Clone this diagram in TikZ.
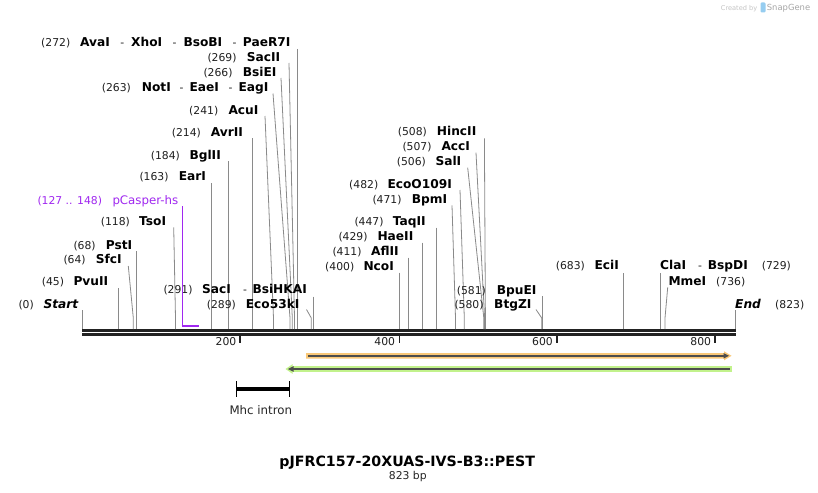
\documentclass[tikz,border=0pt]{standalone}
\usepackage{fontspec}
\newfontfamily\dv{DejaVu Sans}
\newcommand\numf{\dv\mdseries\upshape\fontsize{10.8}{12}\selectfont}
\newcommand\enzf{\dv\bfseries\fontsize{12.2}{13}\selectfont}
\newcommand\featf{\dv\mdseries\upshape\fontsize{11.8}{13}\selectfont}
\definecolor{axisc}{HTML}{222222}
\definecolor{leadc}{HTML}{8A8A8A}
\definecolor{purp}{RGB}{160,40,240}
\definecolor{orangeb}{RGB}{250,200,120}
\definecolor{greenb}{RGB}{194,242,140}
\definecolor{darkln}{HTML}{4D4D4D}
\definecolor{wmgray}{HTML}{C4C4C4}
\definecolor{wmlogo}{RGB}{150,205,240}
\tikzset{
  num/.style={font=\numf, anchor=base west, inner sep=0pt, text=black!88},
  enz/.style={font=\enzf, anchor=base west, inner sep=0pt, text=black},
  dashn/.style={font=\numf, anchor=base west, inner sep=0pt, text=black!88},
  leader/.style={draw=leadc, line width=0.8pt},
  axisline/.style={draw=axisc, line width=2.4pt},
  tickmark/.style={draw=axisc, line width=1.6pt},
  ticklab/.style={font=\numf, anchor=base east, inner sep=0pt, text=black!88},
  featlab/.style={font=\featf, anchor=base west, inner sep=0pt, text=black!85},
}
% id, numx, base y, number, namex, name, topx, topy, bottom x
\newcommand\site[9]{%
  \node[num] (#1n) at (#2,#3) {(#4)};
  \node[enz] (#1) at (#5,#3) {#6};
  \coordinate (#1t) at (#7,#8);
  \coordinate (#1k) at (#9,318);
  \coordinate (#1b) at (#9,329);
  \draw[leader] (#1t) -- (#1k) -- (#1b);}
\begin{document}
\begin{tikzpicture}[x=1pt,y=-1pt]
\useasboundingbox (0,0) rectangle (818,492);
\fill[white] (0,0) rectangle (818,492);

% watermark
\node[font=\dv\fontsize{6.6}{8}\selectfont, text=wmgray, anchor=base west, inner sep=0pt] (wm1) at (720.7,10.5) {Created by};
\fill[wmlogo, rounded corners=1.2pt] (760.5,2.5) rectangle (765.5,12.5);
\node[font=\dv\fontsize{8.4}{10}\selectfont, text=black!35, anchor=base west, inner sep=0pt] (wm2) at (766.7,10.5) {SnapGene};

% axis
\coordinate (ax0) at (82,330.4);
\coordinate (ax1) at (736,330.4);
\coordinate (bx0) at (82,334.6);
\coordinate (bx1) at (736,334.6);
\draw[axisline] (ax0) -- (ax1);
\draw[axisline] (bx0) -- (bx1);

% ticks
\foreach \tx/\lx/\lab in {240/236.5/200, 399.5/395.3/400, 556.7/553/600, 715/711.3/800}{
  \draw[tickmark] (\tx,335.5) -- (\tx,342.7);
  \node[ticklab] at (\lx,345.6) {\lab};
}

% sites (left-labelled)
\site{start}{18.3}{308.3}{0}{43.3}{\itshape Start}{82.3}{310}{82.3}
\site{pvu}{41.7}{285.7}{45}{73.3}{PvuII}{118.3}{288.3}{118.3}
\site{sfc}{63.3}{263.3}{64}{95.7}{SfcI}{128.3}{266}{133.3}
\site{pst}{73.3}{249}{68}{105.7}{PstI}{136.3}{251}{136.3}
\site{tso}{100.7}{225.7}{118}{139}{TsoI}{173.7}{227.3}{175.5}
\site{ear}{139.3}{180.7}{163}{178.7}{EarI}{211.3}{183}{211.3}
\site{bgl}{150.7}{159}{184}{189.3}{BglII}{228.3}{161}{228.3}
\site{avr}{171.7}{136}{214}{210.7}{AvrII}{252.3}{138}{252.3}
\site{acu}{189}{114}{241}{228.3}{AcuI}{265}{116}{273.5}
\site{not}{101.7}{91.7}{263}{141.7}{NotI}{273}{93.5}{290}
\node[dashn] (notd1) at (179.5,91.7) {-};
\node[enz] (eae) at (189.3,91.7) {EaeI};
\node[dashn] (notd2) at (228.5,91.7) {-};
\node[enz] (eag) at (238.3,91.7) {EagI};
\site{bsi}{203.3}{76.7}{266}{242.7}{BsiEI}{281}{78}{292.3}
\site{sactwo}{207.3}{61.7}{269}{246.7}{SacII}{289}{63}{294.5}
\site{ava}{41}{46.7}{272}{80}{AvaI}{297.4}{49}{297.4}
\node[dashn] (avad1) at (120.2,46.7) {-};
\node[enz] (xho) at (131,46.7) {XhoI};
\node[dashn] (avad2) at (172.5,46.7) {-};
\node[enz] (bso) at (183.3,46.7) {BsoBI};
\node[dashn] (avad3) at (232.5,46.7) {-};
\node[enz] (pae) at (242.7,46.7) {PaeR7I};
\site{ecofive}{206.7}{308.3}{289}{245.7}{Eco53kI}{306.5}{309.5}{311.3}
\site{sacone}{163.3}{293.3}{291}{202}{SacI}{313.3}{296.7}{313.3}
\node[dashn] (sacd) at (242.8,293.3) {-};
\node[enz] (bsihk) at (252.3,293.3) {BsiHKAI};
\site{nco}{325}{270.7}{400}{363.3}{NcoI}{399.5}{272.7}{399.5}
\site{afl}{332.3}{255.7}{411}{371}{AflII}{408.7}{257.7}{408.7}
\site{hae}{338.3}{240.7}{429}{377.3}{HaeII}{422.7}{242.7}{422.7}
\site{taq}{354.3}{225.7}{447}{392.7}{TaqII}{436.5}{227.7}{436.5}
\site{bpm}{372.3}{203.3}{471}{411.7}{BpmI}{452}{205.3}{455.5}
\site{ecoo}{349}{188.3}{482}{387.3}{EcoO109I}{460}{190}{464.3}
\site{sal}{396.7}{165.7}{506}{435.3}{SalI}{467.7}{167.7}{483.8}
\site{acc}{402.3}{150.7}{507}{441.3}{AccI}{476}{152.7}{484.6}
\site{hinc}{397.7}{135.7}{508}{436.7}{HincII}{484.4}{138.3}{485.4}
\site{btg}{454.3}{308.3}{580}{494}{BtgZI}{536}{309.5}{541.7}
\site{bpu}{456.7}{294.3}{581}{496.7}{BpuEI}{542.5}{296}{542.5}
\site{eci}{555.7}{269}{683}{594.3}{EciI}{623.8}{273}{623.8}

% sites (right-labelled)
\node[enz] (cla) at (660,269) {ClaI};
\node[dashn] (clad) at (697.8,269) {-};
\node[enz] (bspd) at (707.7,269) {BspDI};
\node[num] (clan) at (761.7,269) {(729)};
\coordinate (clat) at (660.5,273);
\coordinate (clab) at (660.5,329);
\draw[leader] (clat) -- (clab);
\node[enz] (mme) at (668.3,285) {MmeI};
\node[num] (mmen) at (716,285) {(736)};
\coordinate (mmet) at (667.7,287.3);
\coordinate (mmek) at (665,318);
\coordinate (mmeb) at (665,329);
\draw[leader] (mmet) -- (mmek) -- (mmeb);
\node[enz] (endl) at (735,308.3) {\itshape End};
\node[num] (endn) at (775,308.3) {(823)};
\coordinate (endt) at (735.7,310);
\coordinate (endb) at (735.7,329);
\draw[leader] (endt) -- (endb);

% primer pCasper-hs
\node[num, text=purp] (pcn) at (37.3,204) {(127 .. 148)};
\node[featlab, text=purp] (pcas) at (112.3,204) {pCasper-hs};
\coordinate (pct) at (182.3,206);
\coordinate (pck) at (182.3,325.7);
\coordinate (pce) at (198.7,325.7);
\draw[purp, line width=1.3pt] (pct) -- (pck);
\draw[purp, line width=2pt] ([xshift=-0.65pt]pck) -- (pce);

% orange feature (forward)
\fill[orangeb] (306,353) -- (724,353) -- (724,351.3) -- (731.5,355.8) -- (724,360.3) -- (724,358.6) -- (306,358.6) -- cycle;
\coordinate (orS) at (308,355.8);
\coordinate (orE) at (725,355.8);
\draw[darkln, line width=2pt] (orS) -- (orE);
\fill[darkln] (723.5,353) -- (729,355.8) -- (723.5,358.6) -- cycle;

% green feature (reverse)
\fill[greenb] (731.8,366.2) -- (292.5,366.2) -- (292.5,364.2) -- (285.5,369) -- (292.5,373.8) -- (292.5,371.8) -- (731.8,371.8) -- cycle;
\coordinate (grS) at (729.5,369);
\coordinate (grE) at (292,369);
\draw[darkln, line width=2pt] (grS) -- (grE);
\fill[darkln] (293.5,366.2) -- (288,369) -- (293.5,371.8) -- cycle;

% Mhc intron
\coordinate (mhA) at (236.5,389.3);
\coordinate (mhB) at (289.2,389.3);
\draw[black, line width=4.3pt] (mhA) -- (mhB);
\draw[black, line width=1.1pt] (236.5,381) -- (236.5,396.7);
\draw[black, line width=1.1pt] (289.2,381) -- (289.2,396.7);
\node[featlab] (mhc) at (229.3,414) {Mhc intron};

% title
\node[font=\dv\bfseries\fontsize{14.2}{16}\selectfont, anchor=base, inner sep=0pt] (title) at (407.2,466) {pJFRC157-20XUAS-IVS-B3::PEST};
\node[font=\dv\fontsize{10.8}{12}\selectfont, anchor=base, inner sep=0pt, text=black!85] (bp) at (407.8,479) {823 bp};
\end{tikzpicture}
\end{document}
